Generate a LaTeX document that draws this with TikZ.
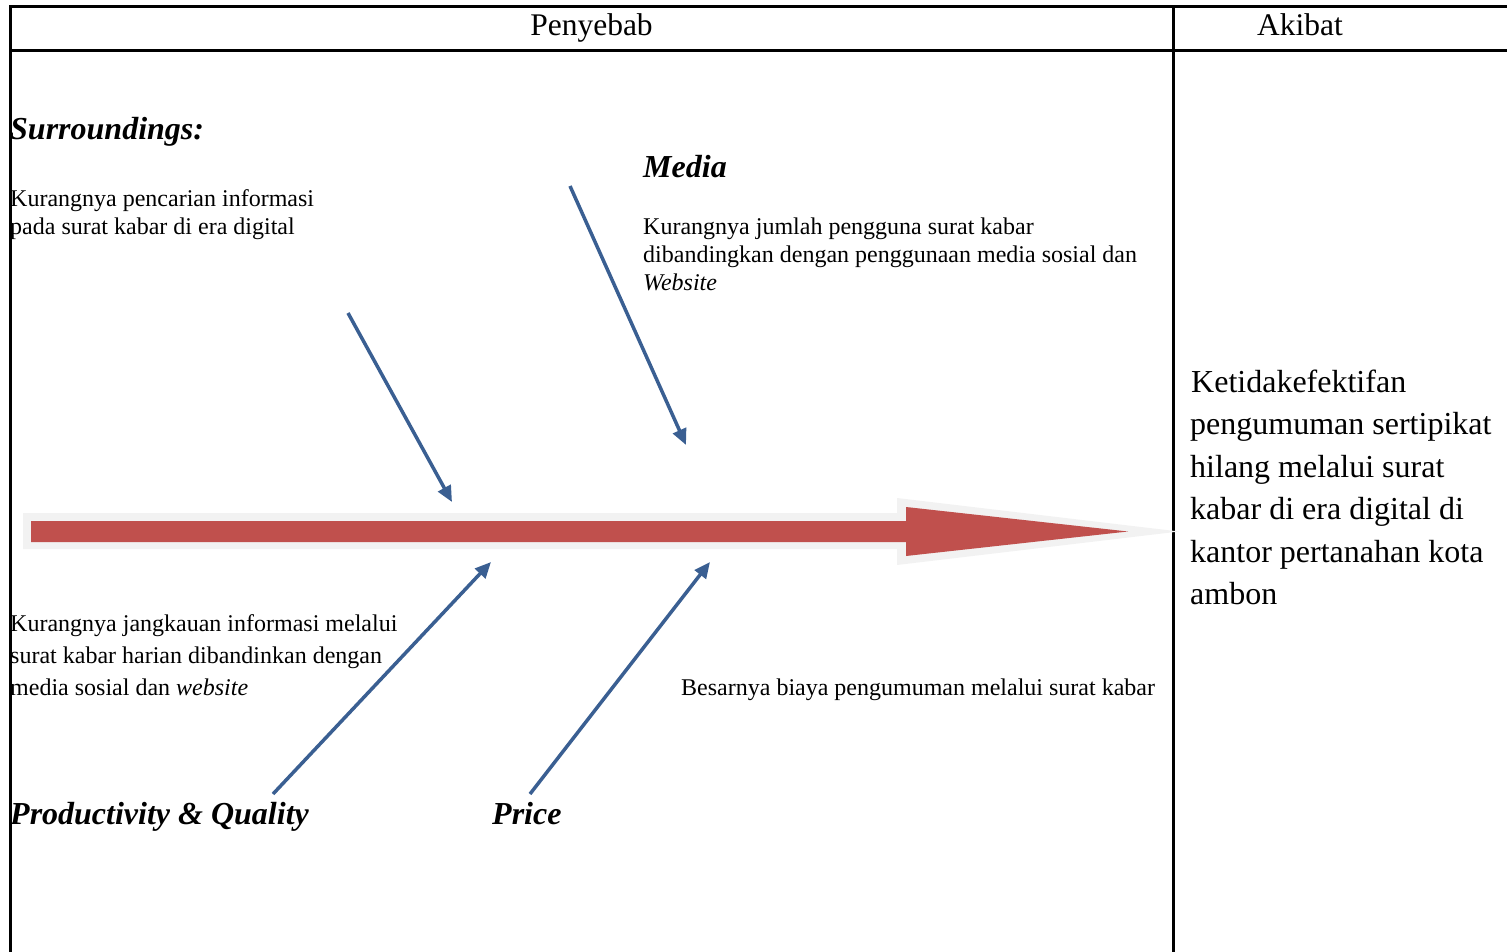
\documentclass[tikz,border=0pt]{standalone}
\usepackage{fontspec}
\setmainfont{Liberation Serif}
\usetikzlibrary{arrows.meta}
\definecolor{fishred}{HTML}{C0504D}
\definecolor{fishgray}{HTML}{F2F2F2}
\definecolor{bonecol}{HTML}{3A5F92}
\tikzset{
  txt/.style={anchor=base west, inner sep=0pt, font=\fontsize{24}{28}\selectfont},
  head/.style={anchor=base, inner sep=0pt, font=\fontsize{31.5}{36}\selectfont},
  cat/.style={anchor=base west, inner sep=0pt, font=\fontsize{32}{36}\selectfont\bfseries\itshape},
  res/.style={anchor=base west, inner sep=0pt, font=\fontsize{32}{36}\selectfont},
  grid/.style={line width=3pt, black},
  bone/.style={line width=3.5pt, bonecol, -{Triangle[length=16pt,width=14pt]}},
}
\begin{document}
\begin{tikzpicture}[x=1pt,y=-1pt]
\useasboundingbox (0,0) rectangle (1507,952);
% table
\draw[grid] (10.5,952) -- (10.5,7) -- (1507,7);
\draw[grid] (10.5,51) -- (1507,51);
\draw[grid] (1173.5,7) -- (1173.5,952);
\node[head] (hpen) at (591.5,36) {Penyebab};
\node[head] (hak) at (1300,36) {Akibat};
% big arrow
\fill[fishgray] (23,513) -- (897,513) -- (897,498) -- (1179,531.5) -- (897,565) -- (897,549) -- (23,549) -- cycle;
\fill[fishred] (31,521) -- (906,521) -- (906,507) -- (1128,531.5) -- (906,556) -- (906,542) -- (31,542) -- cycle;
% categories
\node[cat] (sur) at (10,140) {Surroundings:};
\node[cat] (med) at (643,177.5) {Media};
\node[cat] (pq) at (10,824.5) {Productivity \& Quality};
\node[cat] (pr) at (492,824.5) {Price};
% cause texts
\node[txt] (s1) at (10,206.5) {Kurangnya pencarian informasi};
\node[txt] (s2) at (10,234.5) {pada surat kabar di era digital};
\node[txt] (m1) at (643,234.5) {Kurangnya jumlah pengguna surat kabar};
\node[txt] (m2) at (643,262.5) {dibandingkan dengan penggunaan media sosial dan};
\node[txt] (m3) at (643,290.5) {\itshape Website};
\node[txt] (p1) at (10,631) {Kurangnya jangkauan informasi melalui};
\node[txt] (p2) at (10,663) {surat kabar harian dibandinkan dengan};
\node[txt] (p3) at (10,695) {media sosial dan \textit{website}};
\node[txt] (b1) at (681,695) {Besarnya biaya pengumuman melalui surat kabar};
% effect
\node[res] (r1) at (1191,392) {Ketidakefektifan};
\node[res] (r2) at (1190,434) {pengumuman sertipikat};
\node[res] (r3) at (1190,477) {hilang melalui surat};
\node[res] (r4) at (1190,519) {kabar di era digital di};
\node[res] (r5) at (1190,562) {kantor pertanahan kota};
\node[res] (r6) at (1190,604) {ambon};
% bones
\coordinate (a1s) at (348,313); \coordinate (a1e) at (452,502);
\coordinate (a2s) at (570,186); \coordinate (a2e) at (686,445);
\coordinate (a3s) at (273,794); \coordinate (a3e) at (491,562);
\coordinate (a4s) at (530,794); \coordinate (a4e) at (710,562);
\draw[bone] (a1s) -- (a1e);
\draw[bone] (a2s) -- (a2e);
\draw[bone] (a3s) -- (a3e);
\draw[bone] (a4s) -- (a4e);
\end{tikzpicture}
\end{document}
